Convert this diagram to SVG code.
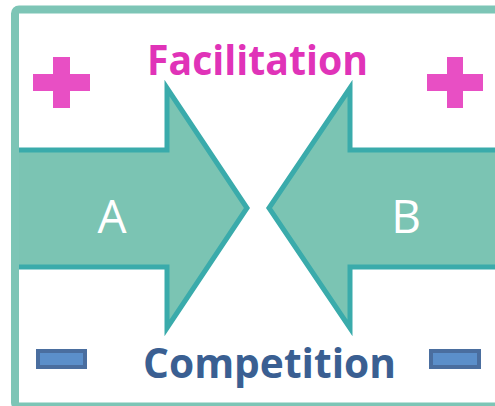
<svg xmlns="http://www.w3.org/2000/svg" width="495" height="406" viewBox="0 0 495 406">
  <style>
    .arrow { fill: #7bc4b3; stroke: #3aabab; stroke-width: 5; stroke-linejoin: miter; stroke-miterlimit: 10; }
    .frame { fill: none; stroke: #7dc5b6; stroke-width: 8; }
    .plus { fill: #e84fc4; }
    .minus { fill: #5b8fca; stroke: #4a6e9f; stroke-width: 4; }
    .label { font-family: "Open Sans", "Liberation Sans", sans-serif; fill: #ffffff; font-size: 46px; }
    .title { font-family: "Open Sans", "Liberation Sans", sans-serif; font-weight: bold; font-size: 42px; }
  </style>
  <rect width="495" height="406" fill="#ffffff"/>

  <g id="connectors">
    <!-- arrow A pointing right, tail tucked under the frame -->
    <polygon class="arrow" points="15,150 167,150 167,88 247,208 167,328 167,267 15,267"/>
    <!-- arrow B pointing left -->
    <polygon class="arrow" points="505,150 350,150 350,88 269,208 350,328 350,267 505,267"/>
  </g>

  <!-- outer frame -->
  <rect class="frame" x="15" y="9.5" width="500" height="397" rx="4"/>

  <g id="node-a">
    <text class="label" x="112" y="233" text-anchor="middle">A</text>
  </g>
  <g id="node-b">
    <text class="label" x="406" y="233" text-anchor="middle">B</text>
  </g>

  <g id="facilitation">
    <text class="title" x="147" y="75" fill="#e033b8" textLength="221" lengthAdjust="spacingAndGlyphs">Facilitation</text>
    <path class="plus" d="M53,57 H70 V74 H90 V91 H70 V108 H53 V91 H33 V74 H53 Z"/>
    <path class="plus" d="M447,57 H463 V74 H483 V91 H463 V108 H447 V91 H427 V74 H447 Z"/>
  </g>

  <g id="competition">
    <text class="title" x="143" y="378" fill="#3a5f92" textLength="253" lengthAdjust="spacingAndGlyphs">Competition</text>
    <rect class="minus" x="38" y="351" width="47" height="16"/>
    <rect class="minus" x="431" y="351" width="48" height="16"/>
  </g>
</svg>
